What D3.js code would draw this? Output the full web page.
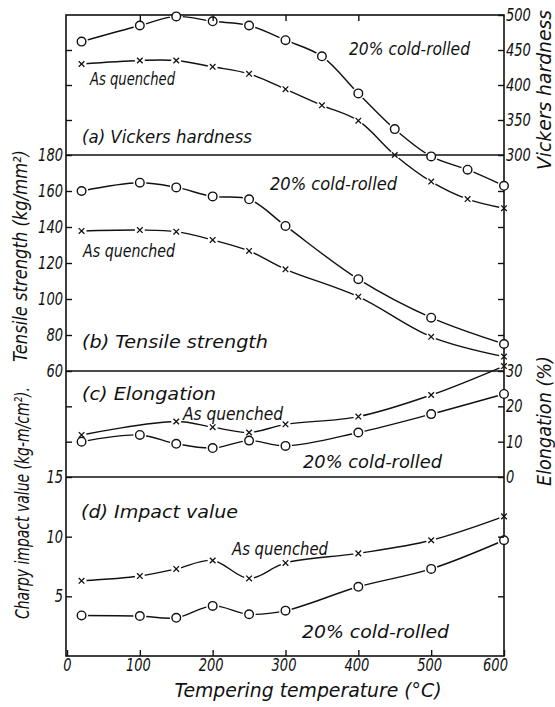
<!DOCTYPE html>
<html>
<head>
  <title>Tempering curves</title>
  <script src="https://d3js.org/d3.v7.min.js"></script>
  <style>
    body { margin: 0; background: #fff; }
    text {
      font-family: "DejaVu Sans", sans-serif;
      font-style: italic;
      font-stretch: condensed;
      fill: #111;
    }
  </style>
</head>
<body>
  <script>
    var width = 555,
        height = 707;

    // tempering temperatures (deg C)
    var tempsVickers = [20, 100, 150, 200, 250, 300, 350, 400, 450, 500, 550, 600];
    var tempsOther = [20, 100, 150, 200, 250, 300, 400, 500, 600];
    var tempsElongQuenched = [20, 150, 200, 250, 300, 400, 500, 600];

    // (a) Vickers hardness
    var vickersRolled = [462, 485, 498, 491, 485, 464, 441, 388, 337, 298, 279, 256];
    var vickersQuenched = [430, 435, 435, 426, 416, 394, 371, 349, 300, 262, 237, 224];

    // (b) Tensile strength, kg/mm2
    var tensileRolled = [160, 164.6, 162, 157, 155.4, 140.6, 111, 89.6, 75];
    var tensileQuenched = [137.8, 138.3, 137.4, 132.8, 126.7, 116.5, 101.3, 79, 68];

    // (c) Elongation, %
    var elongRolled = [10, 11.9, 9.4, 8.2, 10.3, 8.8, 12.6, 17.8, 23.5];
    var elongQuenched = [11.9, 15.7, 14.1, 12.6, 14.9, 17.1, 23.2, 31.4];

    // (d) Charpy impact value, kg-m/cm2
    var impactRolled = [3.4, 3.35, 3.2, 4.2, 3.5, 3.8, 5.8, 7.3, 9.7];
    var impactQuenched = [6.3, 6.7, 7.3, 8.0, 6.5, 7.8, 8.6, 9.7, 11.7];

    // tick labels
    var xTicks = [0, 100, 200, 300, 400, 500, 600];
    var vickersTicks = [300, 350, 400, 450, 500];
    var tensileTicks = [60, 80, 100, 120, 140, 160, 180];
    var elongTicks = [0, 10, 20, 30];
    var impactTicks = [5, 10, 15];

    var svg = d3.select('body')
      .append('svg')
      .attr('width', width)
      .attr('height', height);

    // note: "top" would clash with window.top
    var frameL = 66, frameR = 504, frameT = 15, frameB = 656;

    var x = d3.scaleLinear().domain([0, 600]).range([67, 504]);
    var yA = d3.scaleLinear().domain([300, 500]).range([155, 15]);
    var yB = d3.scaleLinear().domain([60, 180]).range([371, 155]);
    var yC = d3.scaleLinear().domain([0, 30]).range([477, 371]);
    var yD = d3.scaleLinear().domain([0, 15]).range([656, 477]);

    var line = d3.line().curve(d3.curveCatmullRom.alpha(0.5));

    var series = [
      { t: tempsVickers, v: vickersRolled, y: yA, m: 'o' },
      { t: tempsVickers, v: vickersQuenched, y: yA, m: 'x' },
      { t: tempsOther, v: tensileRolled, y: yB, m: 'o' },
      { t: tempsOther, v: tensileQuenched, y: yB, m: 'x' },
      { t: tempsOther, v: elongRolled, y: yC, m: 'o' },
      { t: tempsElongQuenched, v: elongQuenched, y: yC, m: 'x' },
      { t: tempsOther, v: impactRolled, y: yD, m: 'o' },
      { t: tempsOther, v: impactQuenched, y: yD, m: 'x' }
    ];

    series.forEach(function(s) {
      s.pts = s.t.map(function(t, i) { return [x(t), s.y(s.v[i])]; });
    });

    // curves
    svg.selectAll('path.curve')
      .data(series)
      .enter()
      .append('path')
      .attr('class', 'curve')
      .attr('d', function(s) { return line(s.pts); })
      .attr('fill', 'none')
      .attr('stroke', '#111')
      .attr('stroke-width', 1.4);

    // white gaps around markers, like the drawn original
    series.forEach(function(s) {
      svg.append('g').selectAll('circle')
        .data(s.pts)
        .enter()
        .append('circle')
        .attr('cx', function(d) { return d[0]; })
        .attr('cy', function(d) { return d[1]; })
        .attr('r', s.m === 'o' ? 6.5 : 5)
        .attr('fill', '#fff');
    });

    // frame and panel dividers
    svg.append('rect')
      .attr('x', frameL).attr('y', frameT)
      .attr('width', frameR - frameL).attr('height', frameB - frameT)
      .attr('fill', 'none').attr('stroke', '#111').attr('stroke-width', 1.6);

    [yA(300), yB(60), yC(0)].forEach(function(yy) {
      svg.append('line')
        .attr('x1', frameL).attr('x2', frameR)
        .attr('y1', yy).attr('y2', yy)
        .attr('stroke', '#111').attr('stroke-width', 1.5);
    });

    // markers
    series.forEach(function(s) {
      var g = svg.append('g');
      if (s.m === 'o') {
        g.selectAll('circle')
          .data(s.pts)
          .enter()
          .append('circle')
          .attr('cx', function(d) { return d[0]; })
          .attr('cy', function(d) { return d[1]; })
          .attr('r', 4.3)
          .attr('fill', '#fff')
          .attr('stroke', '#111')
          .attr('stroke-width', 1.4);
      } else {
        g.selectAll('path')
          .data(s.pts)
          .enter()
          .append('path')
          .attr('d', function(d) {
            var a = 2.8;
            return 'M' + (d[0] - a) + ',' + (d[1] - a) + 'L' + (d[0] + a) + ',' + (d[1] + a) +
                   'M' + (d[0] - a) + ',' + (d[1] + a) + 'L' + (d[0] + a) + ',' + (d[1] - a);
          })
          .attr('stroke', '#111')
          .attr('stroke-width', 1.3);
      }
    });

    // axes
    function styleAxis(g) {
      g.select('.domain').remove();
      g.selectAll('line').attr('stroke', '#111').attr('stroke-width', 1.4);
      g.selectAll('text')
        .style('font-size', '17px')
        .attr('fill', '#111')
        .attr('lengthAdjust', 'spacingAndGlyphs')
        .attr('textLength', function(d) { return String(d).length * 8.3; });
    }

    function tickOnly(axis, vals) {
      return axis.tickValues(vals).tickFormat('').tickSize(-6);
    }

    // left labelled axes
    svg.append('g').attr('transform', 'translate(' + frameL + ',0)')
      .call(d3.axisLeft(yB).tickValues(tensileTicks).tickSize(-6).tickPadding(3))
      .call(styleAxis);
    svg.append('g').attr('transform', 'translate(' + frameL + ',0)')
      .call(d3.axisLeft(yD).tickValues(impactTicks).tickSize(-6).tickPadding(3))
      .call(styleAxis);
    svg.append('g').attr('transform', 'translate(' + frameL + ',0)')
      .call(tickOnly(d3.axisLeft(yA), [350, 400, 450])).call(styleAxis);
    svg.append('g').attr('transform', 'translate(' + frameL + ',0)')
      .call(tickOnly(d3.axisLeft(yC), [10, 20])).call(styleAxis);

    // right labelled axes
    svg.append('g').attr('transform', 'translate(' + frameR + ',0)')
      .call(d3.axisRight(yA).tickValues(vickersTicks).tickSize(-6).tickPadding(2))
      .call(styleAxis);
    svg.append('g').attr('transform', 'translate(' + frameR + ',0)')
      .call(d3.axisRight(yC).tickValues(elongTicks).tickSize(-6).tickPadding(2))
      .call(styleAxis);
    svg.append('g').attr('transform', 'translate(' + frameR + ',0)')
      .call(tickOnly(d3.axisRight(yB), [80, 100, 120, 140, 160])).call(styleAxis);
    svg.append('g').attr('transform', 'translate(' + frameR + ',0)')
      .call(tickOnly(d3.axisRight(yD), [5, 10])).call(styleAxis);

    // x axes
    svg.append('g').attr('transform', 'translate(0,' + frameB + ')')
      .call(d3.axisBottom(x).tickValues(xTicks).tickSize(-6).tickPadding(3))
      .call(styleAxis)
      .selectAll('text')
      .attr('dx', function(d) { return d === 600 ? -9 : d === 0 ? 0 : -2; });
    svg.append('g').attr('transform', 'translate(0,' + frameT + ')')
      .call(tickOnly(d3.axisTop(x), [100, 200, 300, 400])).call(styleAxis);

    // in-plot labels
    var labels = [
      { s: '(a) Vickers hardness', x: 82, y: 143, w: 170 },
      { s: 'As quenched', x: 90, y: 85, w: 85 },
      { s: '20% cold-rolled', x: 349, y: 55, w: 121 },
      { s: '20% cold-rolled', x: 270, y: 190, w: 127 },
      { s: 'As quenched', x: 83, y: 257, w: 92 },
      { s: '(b) Tensile strength', x: 82, y: 348, w: 186 },
      { s: '(c) Elongation', x: 82, y: 400, w: 134 },
      { s: 'As quenched', x: 183, y: 420, w: 100 },
      { s: '20% cold-rolled', x: 303, y: 468, w: 139 },
      { s: '(d) Impact value', x: 81, y: 518, w: 157 },
      { s: 'As quenched', x: 232, y: 555, w: 96 },
      { s: '20% cold-rolled', x: 302, y: 638, w: 147 }
    ];

    svg.selectAll('text.lab')
      .data(labels)
      .enter()
      .append('text')
      .attr('class', 'lab')
      .attr('x', function(d) { return d.x; })
      .attr('y', function(d) { return d.y; })
      .attr('textLength', function(d) { return d.w; })
      .attr('lengthAdjust', 'spacingAndGlyphs')
      .style('font-size', '17px')
      .text(function(d) { return d.s; });

    // axis titles
    var titles = [
      { s: 'Tempering temperature (\u00b0C)', x: 308, y: 697, w: 267, r: 0, f: 20 },
      { s: 'Tensile strength (kg/mm\u00b2)', x: 27, y: 256, w: 212, r: -90, f: 19 },
      { s: 'Charpy impact value (kg-m/cm\u00b2).', x: 29, y: 503, w: 232, r: -90, f: 20 },
      { s: 'Vickers hardness', x: 551, y: 90, w: 160, r: -90, f: 20 },
      { s: 'Elongation (%)', x: 551, y: 421, w: 130, r: -90, f: 20 }
    ];

    svg.selectAll('text.title')
      .data(titles)
      .enter()
      .append('text')
      .attr('class', 'title')
      .attr('transform', function(d) {
        return 'translate(' + d.x + ',' + d.y + ') rotate(' + d.r + ')';
      })
      .attr('text-anchor', 'middle')
      .attr('textLength', function(d) { return d.w; })
      .attr('lengthAdjust', 'spacingAndGlyphs')
      .style('font-size', function(d) { return d.f + 'px'; })
      .text(function(d) { return d.s; });
  </script>
</body>
</html>
